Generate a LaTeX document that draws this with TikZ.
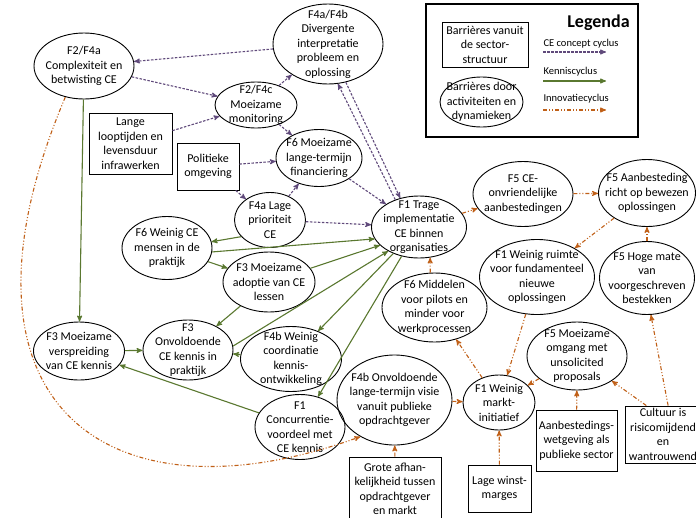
\documentclass[tikz,border=0pt]{standalone}
\usepackage{fontspec}
\setmainfont{Carlito}
\usepackage{tikz}
\usetikzlibrary{shapes.geometric}
\usetikzlibrary{arrows}

\definecolor{ccpurple}{RGB}{96,74,123}
\definecolor{kgreen}{RGB}{90,120,48}
\definecolor{iorange}{RGB}{192,96,24}

\begin{document}
\begin{tikzpicture}[>=stealth',x=1pt,y=1pt,
                    every node/.style={font=\fontsize{12}{14.5}\selectfont, align=center},
                    wh/.style 2 args={minimum width=#1pt, minimum height=#2pt},
                    concept/.style={->, color=ccpurple, line width=1.1pt, dash pattern=on 2.5pt off 1.5pt},
                    kennis/.style={->, color=kgreen, line width=1.1pt},
                    innov/.style={->, color=iorange, line width=1.1pt, dash pattern=on 4pt off 2pt on 1pt off 2pt on 1pt off 2pt}]
  \tikzstyle{act}=[ellipse, draw, line width=0.9pt, inner sep=-30pt]
  \tikzstyle{sector}=[rectangle, draw, line width=0.9pt, inner sep=1pt]

  \useasboundingbox (0,0) rectangle (696,-517);
  \clip (0,0) rectangle (696,-517);

  \node[act, wh={100}{66}]  (complex)       at (84,-66)      {F2/F4a\\Complexiteit en\\betwisting CE};
  \node[act, wh={110}{80}]  (divergent)     at (328,-44)     {F4a/F4b\\Divergente\\interpretatie\\probleem en\\oplossing};
  \node[act, wh={82}{46}]   (monitoring)    at (256,-105)    {F2/F4c\\Moeizame\\monitoring};
  \node[act, wh={86}{57}]   (financiering)  at (319,-158)    {F6 Moeizame\\lange-termijn\\financiering};
  \node[act, wh={95}{62}]   (trage)         at (419,-227)    {F1 Trage\\implementatie\\CE binnen\\organisaties};
  \node[act, wh={100}{65}]  (onvriendelijk) at (523,-194)    {F5 CE-\\onvriendelijke\\aanbestedingen};
  \node[act, wh={97}{67}]   (bewezen)       at (647,-193)    {F5 Aanbesteding\\richt op bewezen\\oplossingen};
  \node[act, wh={115}{75}]  (ruimte)        at (537,-277)    {F1 Weinig ruimte\\voor fundamenteel\\nieuwe\\oplossingen};
  \node[act, wh={95}{73}]   (bestekken)     at (647,-278)    {F5 Hoge mate\\van\\voorgeschreven\\bestekken};
  \node[act, wh={90}{63}]   (mensen)        at (167,-248)    {F6 Weinig CE\\mensen in de\\praktijk};
  \node[act, wh={71}{55}]   (prioriteit)    at (270,-220)    {F4a Lage\\prioriteit\\CE};
  \node[act, wh={92}{60}]   (adoptie)       at (269,-282)    {F3 Moeizame\\adoptie van CE\\lessen};
  \node[act, wh={90}{60}]   (onvoldoende)   at (188,-350)    {F3\\Onvoldoende\\CE kennis in\\praktijk};
  \node[act, wh={91}{58}]   (verspreiding)  at (79,-351)     {F3 Moeizame\\verspreiding\\van CE kennis};
  \node[act, wh={101}{65}]  (coordinatie)   at (291,-359)    {F4b Weinig\\coordinatie\\kennis-\\ontwikkeling};
  \node[act, wh={90}{65}]   (concurrentie)  at (300,-427)    {F1\\Concurrentie-\\voordeel met\\CE kennis};
  \node[act, wh={115}{90}]  (visie)         at (394.5,-400)  {F4b Onvoldoende\\lange-termijn visie\\vanuit publieke\\opdrachtgever};
  \node[act, wh={105}{69}]  (middelen)      at (434.5,-307.5){F6 Middelen\\voor pilots en\\minder voor\\werkprocessen};
  \node[act, wh={72}{55}]   (markt)         at (499,-402.5)  {F1 Weinig\\markt-\\initiatief};
  \node[act, wh={100}{68}]  (omgang)        at (577,-356)    {F5 Moeizame\\omgang met\\unsolicited\\proposals};

  \node[sector, wh={83}{61}] (looptijden)  at (130.5,-143.5) {Lange\\looptijden en\\levensduur\\infrawerken};
  \node[sector, wh={62}{47}] (politiek)    at (208,-166.5)   {Politieke\\omgeving};
  \node[sector, wh={92}{64}] (afhankelijk) at (395,-489)     {Grote afhan-\\kelijkheid tussen\\opdrachtgever\\en markt};
  \node[sector, wh={63}{47}] (winst)       at (499.5,-488.5) {Lage winst-\\marges};
  \node[sector, wh={81}{61}] (wetgeving)   at (576.5,-440.5) {Aanbestedings-\\wetgeving als\\publieke sector};
  \node[sector, wh={75}{57}] (cultuur)     at (663,-434.5)   {Cultuur is\\risicomijdend\\en\\wantrouwend};

  % legenda
  \node[draw, line width=1.2pt, wh={212}{133}] (legenda) at (532,-70.5) {};
  \node[font=\fontsize{18}{20}\selectfont\bfseries, anchor=base] (titel) at (598.5,-27.5) {Legenda};
  \node[sector, wh={86}{45}] (legsector) at (485,-44.5) {Barrières vanuit\\de sector-\\structuur};
  \node[act, wh={83}{50}]    (legact)    at (481.5,-102) {Barrières door\\activiteiten en\\dynamieken};
  \node[font=\fontsize{10.5}{12}\selectfont, anchor=west] (legcc) at (540,-44)  {CE concept cyclus};
  \node[font=\fontsize{10.5}{12}\selectfont, anchor=west] (legkc) at (540,-72)  {Kenniscyclus};
  \node[font=\fontsize{10.5}{12}\selectfont, anchor=west] (legic) at (540,-99)  {Innovatiecyclus};
  \coordinate (cca) at (543,-52);  \coordinate (ccb) at (606,-52);
  \coordinate (kca) at (543,-81);  \coordinate (kcb) at (606,-81);
  \coordinate (ica) at (543,-110); \coordinate (icb) at (606,-110);
  \path[concept] (cca) edge (ccb);
  \path[kennis]  (kca) edge (kcb);
  \path[innov]   (ica) edge (icb);

  \path[concept] (divergent) edge (complex)
        (complex) edge (monitoring)
        (looptijden) edge (monitoring)
        (monitoring) edge (divergent)
                     edge (financiering)
        (politiek) edge (financiering)
                   edge (prioriteit)
        (prioriteit) edge (financiering)
                     edge (trage)
        (financiering) edge (trage)
        (trage.131) edge (divergent.-76)
        (divergent.-65) edge (trage.123);

  \path[kennis] (complex) edge (verspreiding)
        (prioriteit.210) edge (mensen.8)
        (mensen.-5) edge (trage.195)
        (mensen) edge (adoptie)
        (adoptie) edge (trage.205)
                  edge (onvoldoende)
        (onvoldoende.5) edge (trage.218)
        (coordinatie) edge (onvoldoende)
        (trage) edge (coordinatie)
                edge (concurrentie)
        (concurrentie) edge (verspreiding)
        (verspreiding) edge (onvoldoende);

  \path[innov] (trage) edge (onvriendelijk)
        (onvriendelijk) edge (bewezen)
        (bewezen) edge (ruimte)
        (bestekken) edge (bewezen)
        (middelen.97) edge (trage.-70)
        (markt) edge (middelen)
        (ruimte) edge (markt)
        (omgang) edge (markt)
        (wetgeving) edge (omgang)
        (cultuur.120) edge (omgang)
        (cultuur.80) edge (bestekken.-84)
        (winst) edge (markt)
        (visie) edge (markt)
        (afhankelijk) edge (visie);
  \draw[innov] (complex.239) .. controls (-64,-402) and (106,-529) .. (visie.227);
\end{tikzpicture}
\end{document}
